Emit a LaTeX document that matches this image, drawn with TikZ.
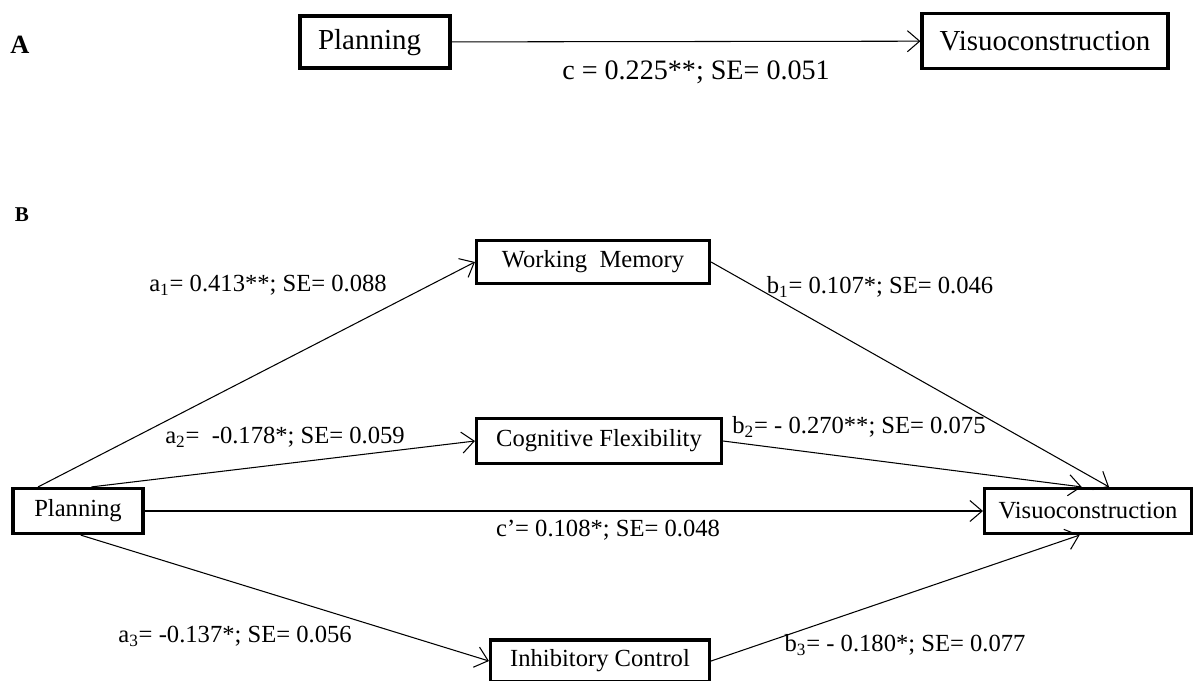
\documentclass[tikz,border=0pt]{standalone}
\usepackage{fontspec}
\setmainfont{Liberation Serif}
\usetikzlibrary{arrows.meta,calc}

\tikzset{
  var/.style={draw, line width=1.8pt, inner sep=0pt, align=center},
  path/.style={line width=0.6pt, -{Straight Barb[length=7pt,width=12pt]}},
  coef/.style={inner sep=0pt}
}

\begin{document}
\begin{tikzpicture}[x=0.02cm, y=-0.02cm, font=\fontsize{14}{16}\selectfont]

  \useasboundingbox (0,0) rectangle (1195,680);

  % ── Panel A ──────────────────────────────────────────────────────
  \node[font=\fontsize{15}{17}\selectfont\bfseries] (labA) at (20,45) {A};
  \node[var, font=\fontsize{16.5}{19}\selectfont, minimum width=3cm, minimum height=1.04cm,
        text width=2.28cm, align=left, text depth=0.12cm] (planA) at (375,42) {Planning};
  \node[var, font=\fontsize{16.5}{19}\selectfont, minimum width=4.92cm, minimum height=1.1cm]
        (visA) at (1045,41) {Visuoconstruction};
  \draw[path] (planA) -- (visA);
  \node[coef, font=\fontsize{16}{19}\selectfont] (cA) at (696,72) {c = 0.225**; SE= 0.051};

  % ── Panel B: variables ───────────────────────────────────────────
  \node[font=\fontsize{12}{14}\selectfont\bfseries] (labB) at (22,215) {B};
  \node[var, minimum width=4.66cm, minimum height=0.86cm] (wm)  at (593,262) {Working\ \ Memory};
  \node[var, minimum width=4.9cm,  minimum height=0.9cm]  (cf)  at (599,441) {Cognitive\ Flexibility};
  \node[var, minimum width=2.6cm,  minimum height=0.9cm]  (plan) at (78,511) {Planning};
  \node[var, minimum width=4.14cm, minimum height=0.9cm]  (vis) at (1088,511) {Visuoconstruction};
  \node[var, minimum width=4.38cm, minimum height=0.84cm] (ic)  at (600,661) {Inhibitory Control};

  % ── Panel B: paths ───────────────────────────────────────────────
  \draw[path] ($(plan.north west)!0.2!(plan.north east)$) -- (wm.west);
  \draw[path] ($(plan.north west)!0.6!(plan.north east)$) -- (cf.west);
  \draw[path] (plan.east) -- (vis.west);
  \draw[path] ($(plan.south west)!0.52!(plan.south east)$) -- (ic.west);
  \draw[path] (wm.east) -- ($(vis.north west)!0.6!(vis.north east)$);
  \draw[path] (cf.east) -- ($(vis.north west)!0.47!(vis.north east)$);
  \draw[path] (ic.east) -- ($(vis.south west)!0.46!(vis.south east)$);

  % ── Panel B: coefficients ────────────────────────────────────────
  \node[coef] (a1) at (268,285) {a\textsubscript{1}= 0.413**; SE= 0.088};
  \node[coef] (a2) at (285,437) {a\textsubscript{2}=\ \ -0.178*; SE= 0.059};
  \node[coef] (a3) at (235,636) {a\textsubscript{3}= -0.137*; SE= 0.056};
  \node[coef] (b1) at (880,287) {b\textsubscript{1}= 0.107*; SE= 0.046};
  \node[coef] (b2) at (859,427) {b\textsubscript{2}= - 0.270**; SE= 0.075};
  \node[coef] (b3) at (905,645) {b\textsubscript{3}= - 0.180*; SE= 0.077};
  \node[coef] (cp) at (608,530) {c’= 0.108*; SE= 0.048};

\end{tikzpicture}
\end{document}
